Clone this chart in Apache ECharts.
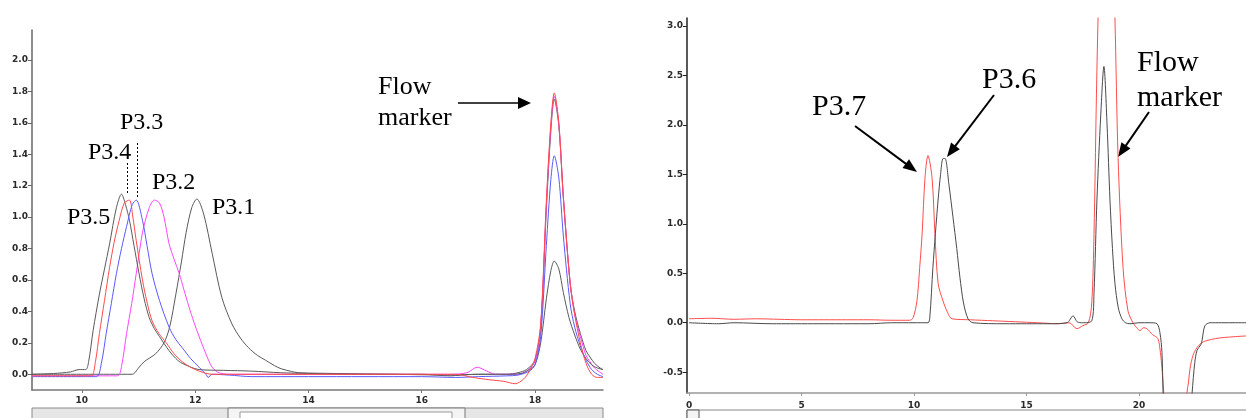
<!DOCTYPE html>
<html><head><meta charset="utf-8">
<script src="https://cdn.jsdelivr.net/npm/echarts@6/dist/echarts.min.js"></script>
<style>html,body{margin:0;padding:0;background:#fff}#c{width:1246px;height:418px}</style>
</head><body><div id="c"></div>
<script>
// ---- Left panel data (elution time, absorbance) ----
const leftXTicks = [10, 12, 14, 16, 18];
const leftYTicks = [0, 0.2, 0.4, 0.6, 0.8, 1.0, 1.2, 1.4, 1.6, 1.8, 2.0];
const p31 = [[9.12,0.0],[9.6,0.0],[10.0,0.0],[10.5,0.0],[10.89,0.0],[11.0,0.04],[11.1,0.08],[11.3,0.13],[11.45,0.2],[11.55,0.3],[11.66,0.51],[11.76,0.72],[11.84,0.9],[11.94,1.06],[12.03,1.115],[12.15,1.02],[12.3,0.77],[12.47,0.49],[12.65,0.32],[12.8,0.23],[12.94,0.17],[13.1,0.12],[13.24,0.09],[13.4,0.055],[13.52,0.035],[13.7,0.018],[13.82,0.01],[14.5,0.005],[15.5,0.0],[16.5,-0.005],[17.0,0.0],[17.5,0.0],[17.7,0.01],[17.85,0.03],[18.0,0.09],[18.1,0.3],[18.2,1.05],[18.28,1.55],[18.34,1.75],[18.42,1.58],[18.5,1.12],[18.62,0.58],[18.7,0.4],[18.8,0.26],[18.9,0.15],[18.97,0.11],[19.05,0.07],[19.15,0.04],[19.2,0.03]];
const p32 = [[9.12,-0.01],[10.0,-0.01],[10.63,-0.01],[10.7,0.05],[10.79,0.26],[10.88,0.45],[10.96,0.64],[11.07,0.9],[11.19,1.06],[11.28,1.108],[11.37,1.09],[11.45,1.0],[11.54,0.83],[11.63,0.73],[11.72,0.64],[11.8,0.54],[11.89,0.43],[11.98,0.33],[12.07,0.24],[12.19,0.13],[12.3,0.045],[12.42,0.01],[12.6,0.0],[13.5,0.0],[14.5,0.0],[15.5,0.0],[16.5,0.0],[16.8,0.01],[16.98,0.045],[17.15,0.02],[17.3,0.0],[17.7,0.0],[17.85,0.02],[18.0,0.08],[18.1,0.3],[18.2,1.08],[18.28,1.58],[18.34,1.77],[18.42,1.59],[18.5,1.13],[18.62,0.58],[18.7,0.38],[18.8,0.24],[18.9,0.12],[18.97,0.08],[19.05,0.04],[19.2,0.0]];
const p33 = [[9.12,-0.015],[10.0,-0.015],[10.26,-0.015],[10.35,0.08],[10.43,0.26],[10.52,0.45],[10.61,0.64],[10.7,0.8],[10.79,0.94],[10.89,1.08],[10.96,1.108],[11.07,0.98],[11.15,0.82],[11.24,0.64],[11.37,0.47],[11.54,0.3],[11.66,0.22],[11.77,0.17],[11.92,0.1],[12.07,0.045],[12.19,0.0],[12.23,-0.02],[12.3,0.0],[12.6,-0.005],[13.0,-0.015],[14,-0.015],[15,-0.015],[16,-0.015],[16.6,-0.02],[17,-0.015],[17.5,-0.01],[17.7,-0.005],[17.9,0.02],[18.0,0.06],[18.1,0.24],[18.2,0.82],[18.28,1.24],[18.34,1.39],[18.42,1.25],[18.5,0.88],[18.62,0.45],[18.7,0.3],[18.8,0.18],[18.9,0.09],[19.0,0.03],[19.1,0.0],[19.2,-0.015]];
const p34 = [[9.12,-0.01],[10.0,-0.01],[10.17,-0.01],[10.24,0.08],[10.31,0.26],[10.4,0.47],[10.49,0.68],[10.57,0.84],[10.66,0.98],[10.75,1.09],[10.84,1.108],[10.9,1.0],[10.96,0.85],[11.07,0.6],[11.15,0.46],[11.24,0.34],[11.36,0.26],[11.49,0.2],[11.63,0.13],[11.77,0.08],[11.92,0.045],[12.07,0.02],[12.3,0.0],[13,0.0],[14,0.0],[15,0.0],[16,0.0],[16.6,0.0],[16.9,-0.02],[17.2,-0.035],[17.45,-0.045],[17.65,-0.06],[17.8,-0.03],[17.9,0.02],[18.0,0.1],[18.1,0.32],[18.2,1.1],[18.28,1.6],[18.34,1.79],[18.42,1.6],[18.5,1.13],[18.62,0.58],[18.7,0.38],[18.8,0.2],[18.9,0.07],[19.0,0.0],[19.1,-0.02],[19.2,-0.02]];
const p35 = [[9.12,0.0],[9.5,0.005],[9.8,0.015],[9.95,0.03],[10.07,0.03],[10.12,0.08],[10.2,0.28],[10.31,0.51],[10.4,0.67],[10.49,0.83],[10.61,1.06],[10.7,1.146],[10.77,1.08],[10.84,0.98],[10.92,0.82],[11.01,0.64],[11.1,0.48],[11.19,0.36],[11.28,0.29],[11.37,0.24],[11.54,0.15],[11.66,0.1],[11.77,0.07],[12.07,0.03],[12.5,0.025],[13,0.02],[13.5,0.01],[14,0.005],[15,0.0],[16,0.0],[16.5,-0.01],[16.7,-0.005],[17,0.0],[17.5,0.0],[17.75,0.005],[17.9,0.03],[18.0,0.06],[18.1,0.2],[18.2,0.48],[18.28,0.66],[18.34,0.72],[18.42,0.67],[18.5,0.52],[18.6,0.36],[18.7,0.25],[18.8,0.16],[18.9,0.1],[19.0,0.06],[19.1,0.04],[19.2,0.03]];

// ---- Right panel data ----
const rightXTicks = [0, 5, 10, 15, 20, 25];
const rightYTicks = [-0.5, 0, 0.5, 1.0, 1.5, 2.0, 2.5, 3.0];
const p37 = [[0,0.04],[1,0.045],[2,0.035],[3,0.04],[4,0.035],[5,0.03],[6,0.03],[7,0.03],[8,0.03],[9,0.025],[9.8,0.025],[9.96,0.05],[10.13,0.22],[10.25,0.55],[10.36,0.9],[10.49,1.47],[10.62,1.69],[10.8,1.47],[10.93,0.9],[11.07,0.4],[11.29,0.22],[11.5,0.1],[11.69,0.04],[12.5,0.03],[13.5,0.02],[14.5,0.01],[15.5,0.0],[16.4,-0.01],[16.9,0.0],[17.24,-0.06],[17.5,-0.03],[17.75,0.0],[17.9,0.2],[18.0,0.9],[18.1,2.2],[18.18,3.08],[18.3,4.0],[18.55,4.6],[18.8,4.0],[18.93,3.08],[19.07,1.67],[19.29,0.56],[19.51,0.12],[19.73,0.0],[19.9,-0.05],[20.04,-0.08],[20.2,-0.05],[20.35,-0.06],[20.6,-0.12],[20.84,-0.16],[20.95,-0.3],[21.02,-0.46],[21.11,-0.75],[21.2,-1.2],[21.6,-1.8],[22.0,-1.2],[22.13,-0.71],[22.2,-0.6],[22.27,-0.46],[22.4,-0.33],[22.58,-0.25],[22.8,-0.2],[23.02,-0.18],[23.4,-0.16],[23.73,-0.15],[24.3,-0.14],[25,-0.13]];
const p36 = [[0,0.0],[1.3,-0.01],[2,0.0],[3.7,-0.01],[4.5,-0.01],[5.5,-0.01],[6.5,-0.01],[8,-0.01],[9,0.0],[10,0.0],[10.62,0.0],[10.7,0.05],[10.84,0.56],[10.95,0.9],[11.07,1.24],[11.18,1.5],[11.29,1.66],[11.38,1.66],[11.55,1.4],[11.73,1.07],[11.9,0.75],[12.04,0.46],[12.2,0.2],[12.4,0.04],[12.62,0.0],[14,-0.01],[15,-0.01],[16,-0.01],[16.8,0.0],[17.07,0.07],[17.25,0.01],[17.5,0.0],[17.9,0.02],[18.0,0.3],[18.13,1.24],[18.3,2.1],[18.44,2.59],[18.58,2.0],[18.71,1.24],[18.82,0.75],[18.93,0.4],[19.08,0.15],[19.24,0.04],[19.4,0.0],[19.6,-0.01],[20.0,0.0],[20.5,0.0],[20.8,-0.01],[20.93,-0.1],[21.02,-0.3],[21.07,-0.71],[21.15,-1.2],[21.7,-1.8],[22.2,-1.2],[22.36,-0.71],[22.48,-0.4],[22.58,-0.28],[22.75,-0.22],[22.8,-0.18],[22.93,-0.03],[23.16,0.0],[25,0.0]];

const tickFont = {fontFamily:'DejaVu Sans', fontWeight:'bold', fontSize:9, color:'#2a2a2a'};
const serif = 'Liberation Serif';

function line(x1,y1,x2,y2,w,dash){return {type:'line',shape:{x1,y1,x2,y2},style:{stroke:'#000',lineWidth:w,lineDash:dash||null},silent:true};}
function arrow(x1,y1,x2,y2,w,len,hw){
  const a=Math.atan2(y2-y1,x2-x1), c=Math.cos(a), s=Math.sin(a);
  const bx=x2-len*c, by=y2-len*s;
  return [line(x1,y1,bx+2*c,by+2*s,w),
    {type:'polygon',shape:{points:[[x2,y2],[bx-hw*s,by+hw*c],[bx+hw*s,by-hw*c]]},style:{fill:'#000'},silent:true}];
}
function txt(t,x,y,size){return {type:'text',x,y,style:{text:t,fontFamily:serif,fontSize:size,fill:'#000',align:'left',verticalAlign:'middle'},silent:true};}

const chart = echarts.init(document.getElementById('c'));
function ser(data,color,xi){return {type:'line',data,xAxisIndex:xi,yAxisIndex:xi,showSymbol:false,symbol:'none',smooth:0.3,clip:true,lineStyle:{color,width:1},animation:false};}

chart.setOption({
  animation:false,
  backgroundColor:'#fff',
  grid:[{left:32,top:30,width:571,height:360,outerBoundsMode:'none',containLabel:false},
        {left:687,top:18,width:564.5,height:375,outerBoundsMode:'none',containLabel:false}],
  xAxis:[
    {type:'value',gridIndex:0,min:9.12,max:19.2,splitLine:{show:false},
     axisLine:{onZero:false,lineStyle:{color:'#777',width:1.5}},
     axisTick:{customValues:leftXTicks,length:3,lineStyle:{color:'#777'}},
     axisLabel:Object.assign({customValues:leftXTicks,margin:6},tickFont)},
    {type:'value',gridIndex:1,min:-0.09,max:25,splitLine:{show:false},
     axisLine:{onZero:false,lineStyle:{color:'#999',width:1.5}},
     axisTick:{customValues:rightXTicks,length:3,lineStyle:{color:'#999'}},
     axisLabel:Object.assign({customValues:rightXTicks,margin:8,showMaxLabel:true,hideOverlap:false},tickFont)}
  ],
  yAxis:[
    {type:'value',gridIndex:0,min:-0.1,max:2.19,splitLine:{show:false},
     axisLine:{show:true,onZero:false,lineStyle:{color:'#666',width:1.5}},
     axisTick:{show:true,customValues:leftYTicks,length:4,lineStyle:{color:'#666'}},
     axisLabel:Object.assign({customValues:leftYTicks,margin:4,formatter:v=>v.toFixed(1)},tickFont)},
    {type:'value',gridIndex:1,min:-0.71,max:3.08,splitLine:{show:false},
     axisLine:{show:true,onZero:false,lineStyle:{color:'#222',width:1.5}},
     axisTick:{show:true,customValues:rightYTicks,length:4,lineStyle:{color:'#222'}},
     axisLabel:Object.assign({customValues:rightYTicks,margin:4,formatter:v=>v.toFixed(1)},tickFont)}
  ],
  series:[
    ser(p31,'#5a5a5a',0),
    ser(p32,'#ff44ff',0),
    ser(p35,'#5a5a5a',0),
    ser(p33,'#5a5aff',0),
    ser(p34,'#ff4a4a',0),
    ser(p37,'#ff4d4d',1),
    ser(p36,'#4a4a4a',1)
  ],
  graphic:[
    {type:'rect',shape:{x:32,y:408,width:571,height:12},style:{fill:'#e6e6e6',stroke:'#8a8a8a',lineWidth:1},silent:true},
    {type:'rect',shape:{x:228,y:408,width:237,height:12},style:{fill:'#f4f4f4',stroke:'#777',lineWidth:1},silent:true},
    {type:'rect',shape:{x:240,y:412,width:212,height:8},style:{fill:'#fff',stroke:'#999',lineWidth:1},silent:true},
    {type:'rect',shape:{x:687,y:410,width:565,height:10},style:{fill:'#fff',stroke:'#888',lineWidth:1},silent:true},
    {type:'rect',shape:{x:687,y:410,width:12,height:10},style:{fill:'#f4f4f4',stroke:'#555',lineWidth:1},silent:true},
    txt('P3.5',67,218,24), txt('P3.4',88,153,24), txt('P3.3',120,123,24),
    txt('P3.2',152,183,24), txt('P3.1',212,208,24),
    line(127.5,163,127.5,194,1,[2,2]), line(137.5,143,137.5,199,1,[2,2]),
    txt('Flow',378,87,26), txt('marker',378,118,26),
    ...arrow(458,103,531,103,1.5,13,6),
    txt('P3.7',812,107,30), txt('P3.6',982,80,30),
    txt('Flow',1137,63,30), txt('marker',1137,98,30),
    ...arrow(855,126,917,172,2,14,5.5),
    ...arrow(994,95,947,157,2,14,5.5),
    ...arrow(1149,112,1118,157,2,14,5.5)
  ]
});
</script></body></html>
